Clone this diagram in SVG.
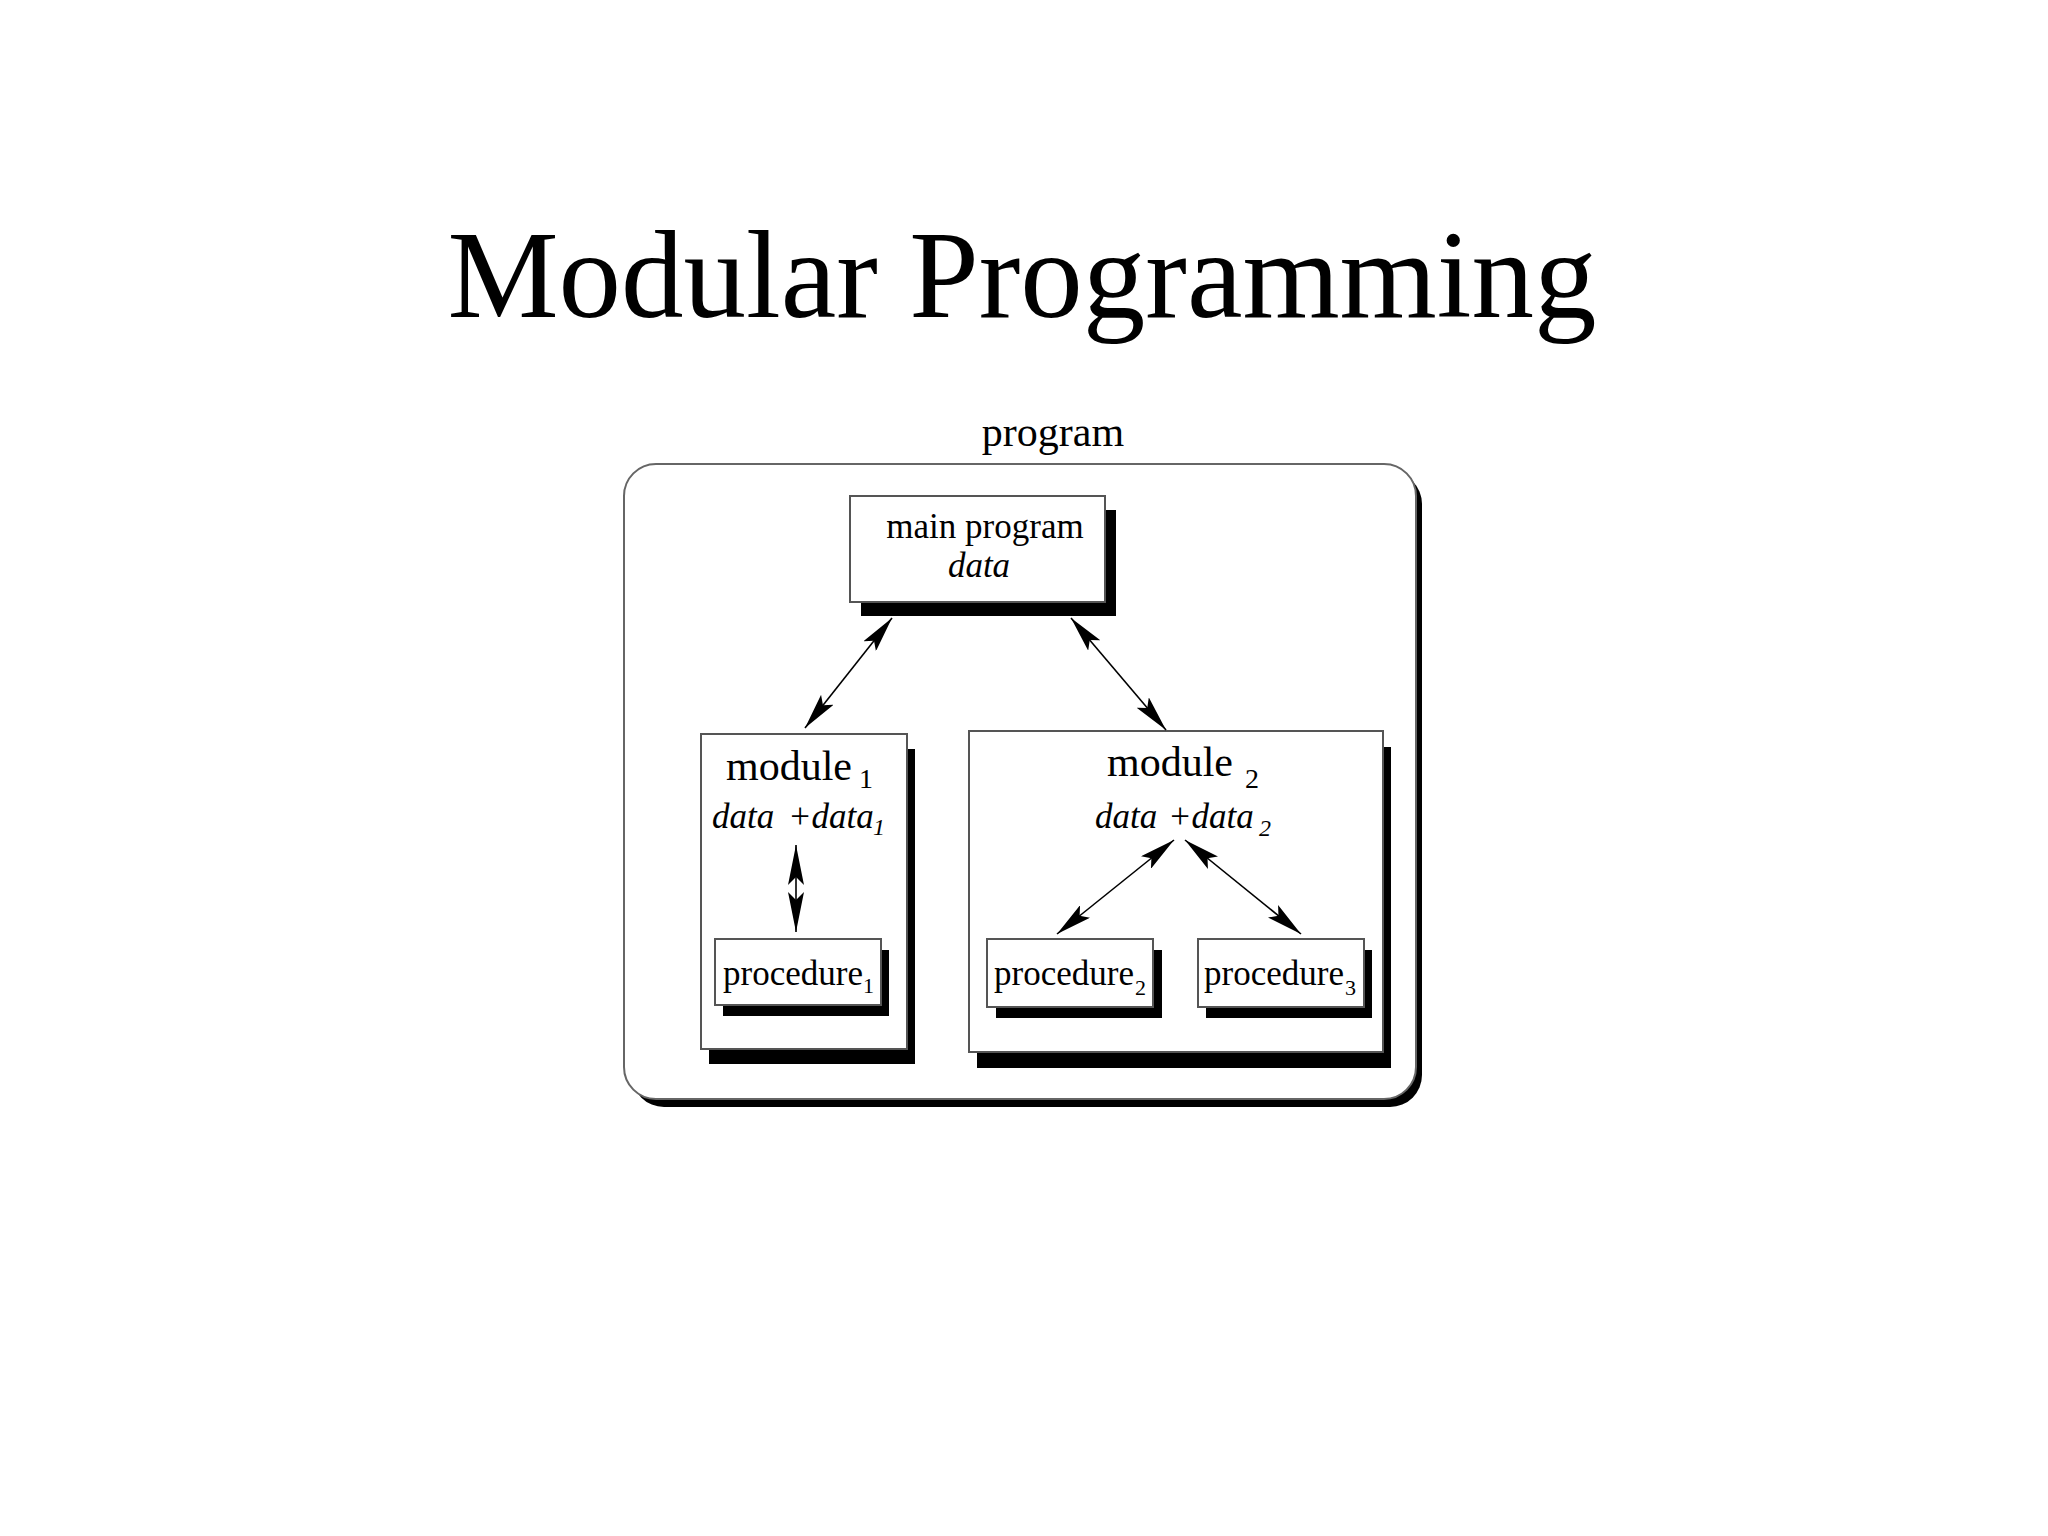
<svg xmlns="http://www.w3.org/2000/svg" width="2048" height="1536" viewBox="0 0 2048 1536">
<style>
.t{font-family:"Liberation Serif","Times New Roman",serif;fill:#000}
.i{font-style:italic}
.box{fill:#fff;stroke:#555;stroke-width:2}
.sh{fill:#000}
.ln{stroke:#000;stroke-width:1.6;fill:none}
</style>
<defs>
<marker id="ah" markerUnits="userSpaceOnUse" markerWidth="36" markerHeight="16" refX="36" refY="8" orient="auto-start-reverse" viewBox="0 0 36 16">
<path d="M0,0 L36,8 L0,16 L7,8 z" fill="#000"/>
</marker>
<marker id="ahL" markerUnits="userSpaceOnUse" markerWidth="40" markerHeight="16" refX="40" refY="8" orient="auto-start-reverse" viewBox="0 0 40 16">
<path d="M0,0 L40,8 L0,16 L8,8 z" fill="#000"/>
</marker>
</defs>
<rect width="2048" height="1536" fill="#fff"/>
<text class="t" x="1022" y="317" font-size="125" text-anchor="middle">Modular Programming</text>

<g id="program">
<text class="t" x="1053" y="446" font-size="42" text-anchor="middle">program</text>
<rect class="sh" x="632" y="472" width="790" height="635" rx="32"/>
<rect x="624" y="464" width="792" height="635" rx="32" fill="#fff" stroke="#666" stroke-width="2"/>
</g>

<g id="main-program">
<rect class="sh" x="861" y="510" width="255" height="106"/>
<rect class="box" x="850" y="496" width="255" height="106"/>
<text class="t" x="985" y="538" font-size="35" text-anchor="middle">main program</text>
<text class="t i" x="979" y="577" font-size="35" text-anchor="middle">data</text>
</g>

<g id="module1">
<rect class="sh" x="709" y="749" width="206" height="315"/>
<rect class="box" x="701" y="734" width="206" height="315"/>
<text class="t" x="726" y="780" font-size="42">module<tspan x="859" y="788" font-size="28">1</tspan></text>
<text class="t i" x="712" y="828" font-size="35">data<tspan x="788">+data</tspan><tspan x="873" y="835" font-size="24">1</tspan></text>
</g>

<g id="module2">
<rect class="sh" x="977" y="747" width="414" height="321"/>
<rect class="box" x="969" y="731" width="414" height="321"/>
<text class="t" x="1107" y="776" font-size="42">module<tspan x="1245" y="788" font-size="28">2</tspan></text>
<text class="t i" x="1095" y="828" font-size="35">data<tspan x="1168">+data</tspan><tspan x="1259" y="836" font-size="24">2</tspan></text>
</g>

<g id="procedure1">
<rect class="sh" x="723" y="950" width="166" height="66"/>
<rect class="box" x="715" y="939" width="166" height="66"/>
<text class="t" x="723" y="985" font-size="35">procedure<tspan x="863" y="993" font-size="22">1</tspan></text>
</g>

<g id="procedure2">
<rect class="sh" x="996" y="950" width="166" height="68"/>
<rect class="box" x="987" y="939" width="166" height="68"/>
<text class="t" x="994" y="985" font-size="35">procedure<tspan x="1135" y="995" font-size="22">2</tspan></text>
</g>

<g id="procedure3">
<rect class="sh" x="1206" y="950" width="166" height="68"/>
<rect class="box" x="1198" y="939" width="166" height="68"/>
<text class="t" x="1204" y="985" font-size="35">procedure<tspan x="1345" y="995" font-size="22">3</tspan></text>
</g>

<g id="connectors">
<line class="ln" x1="892" y1="618" x2="805" y2="728" marker-start="url(#ah)" marker-end="url(#ah)"/>
<line class="ln" x1="1071" y1="618" x2="1166" y2="730" marker-start="url(#ah)" marker-end="url(#ah)"/>
<line class="ln" x1="796" y1="845" x2="796" y2="932" marker-start="url(#ahL)" marker-end="url(#ahL)"/>
<line class="ln" x1="1174" y1="840" x2="1057" y2="934" marker-start="url(#ah)" marker-end="url(#ah)"/>
<line class="ln" x1="1185" y1="840" x2="1301" y2="934" marker-start="url(#ah)" marker-end="url(#ah)"/>
</g>
</svg>
